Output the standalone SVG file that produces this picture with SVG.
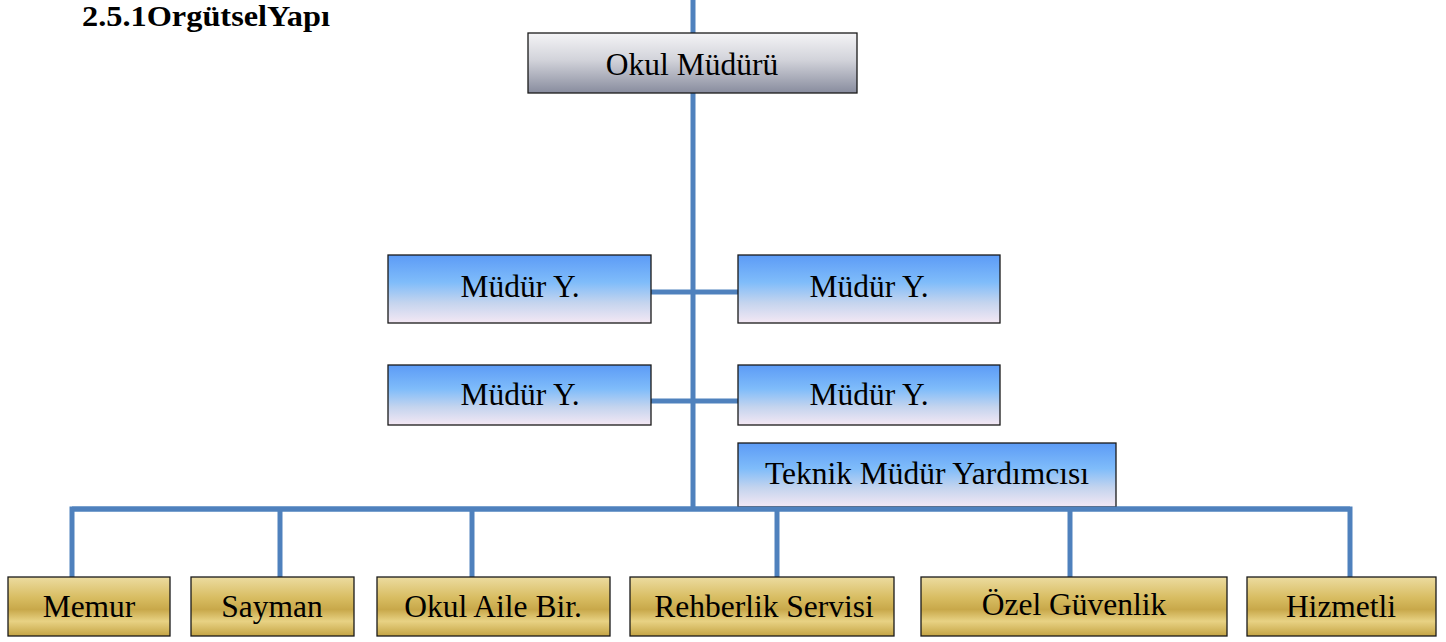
<svg xmlns="http://www.w3.org/2000/svg" width="1446" height="642" viewBox="0 0 1446 642">
<defs>
<linearGradient id="gGray" x1="0" y1="0" x2="0" y2="1">
<stop offset="0" stop-color="#f4f4f6"/>
<stop offset="0.45" stop-color="#d2d3da"/>
<stop offset="1" stop-color="#888c9e"/>
</linearGradient>
<linearGradient id="gBlue" x1="0" y1="0" x2="0" y2="1">
<stop offset="0" stop-color="#5c9bf6"/>
<stop offset="0.4" stop-color="#7fbcfa"/>
<stop offset="0.7" stop-color="#c4d4ee"/>
<stop offset="1" stop-color="#f4e8f4"/>
</linearGradient>
<linearGradient id="gGold" x1="0" y1="0" x2="0" y2="1">
<stop offset="0" stop-color="#ecdca0"/>
<stop offset="0.35" stop-color="#d8bd62"/>
<stop offset="0.55" stop-color="#c8a84a"/>
<stop offset="0.75" stop-color="#e8d284"/>
<stop offset="1" stop-color="#c4a444"/>
</linearGradient>
</defs>
<style>
.t{font-family:"Liberation Serif","Times New Roman",serif;font-size:31.5px;fill:#000;text-anchor:middle}
.title{font-family:"Liberation Serif","Times New Roman",serif;font-size:29px;font-weight:bold;fill:#000}
.box{stroke:#1a1a1a;stroke-width:1.3}
.gray{fill:url(#gGray)}
.blue{fill:url(#gBlue)}
.gold{fill:url(#gGold)}
.ln{stroke:#4f81bd;stroke-width:5;fill:none}
</style>
<rect width="1446" height="642" fill="#fff"/>
<text class="title" x="82" y="26" textLength="248" lengthAdjust="spacingAndGlyphs">2.5.1OrgütselYapı</text>
<g id="connectors">
<line class="ln" x1="693" y1="0" x2="693" y2="511"/>
<line class="ln" x1="651" y1="292" x2="738" y2="292"/>
<line class="ln" x1="651" y1="401" x2="738" y2="401"/>
<polyline class="ln" points="72,577 72,509 1350,509 1350,577"/>
<line class="ln" x1="280" y1="509" x2="280" y2="577"/>
<line class="ln" x1="472" y1="509" x2="472" y2="577"/>
<line class="ln" x1="777" y1="509" x2="777" y2="577"/>
<line class="ln" x1="1070" y1="509" x2="1070" y2="577"/>
</g>
<g id="okul-muduru">
<rect class="box gray" x="528" y="33" width="329" height="60"/>
<text class="t" x="692" y="75">Okul Müdürü</text>
</g>
<g id="mudur-y-1">
<rect class="box blue" x="388" y="255" width="263" height="68"/>
<text class="t" x="520" y="297">Müdür Y.</text>
</g>
<g id="mudur-y-2">
<rect class="box blue" x="738" y="255" width="262" height="68"/>
<text class="t" x="869" y="297">Müdür Y.</text>
</g>
<g id="mudur-y-3">
<rect class="box blue" x="388" y="365" width="263" height="60"/>
<text class="t" x="520" y="405">Müdür Y.</text>
</g>
<g id="mudur-y-4">
<rect class="box blue" x="738" y="365" width="262" height="60"/>
<text class="t" x="869" y="405">Müdür Y.</text>
</g>
<g id="teknik">
<rect class="box blue" x="738" y="443" width="378" height="64"/>
<text class="t" x="927" y="484">Teknik Müdür Yardımcısı</text>
</g>
<line class="ln" x1="72" y1="509" x2="1350" y2="509"/>
<g id="memur">
<rect class="box gold" x="8" y="577" width="162" height="59"/>
<text class="t" x="89" y="617">Memur</text>
</g>
<g id="sayman">
<rect class="box gold" x="191" y="577" width="163" height="59"/>
<text class="t" x="272" y="617">Sayman</text>
</g>
<g id="okul-aile">
<rect class="box gold" x="377" y="577" width="233" height="59"/>
<text class="t" x="493" y="617">Okul Aile Bir.</text>
</g>
<g id="rehberlik">
<rect class="box gold" x="630" y="577" width="264" height="59"/>
<text class="t" x="764" y="617">Rehberlik Servisi</text>
</g>
<g id="ozel-guvenlik">
<rect class="box gold" x="921" y="577" width="306" height="59"/>
<text class="t" x="1074" y="615">Özel Güvenlik</text>
</g>
<g id="hizmetli">
<rect class="box gold" x="1247" y="577" width="189" height="59"/>
<text class="t" x="1341" y="617">Hizmetli</text>
</g>
</svg>
